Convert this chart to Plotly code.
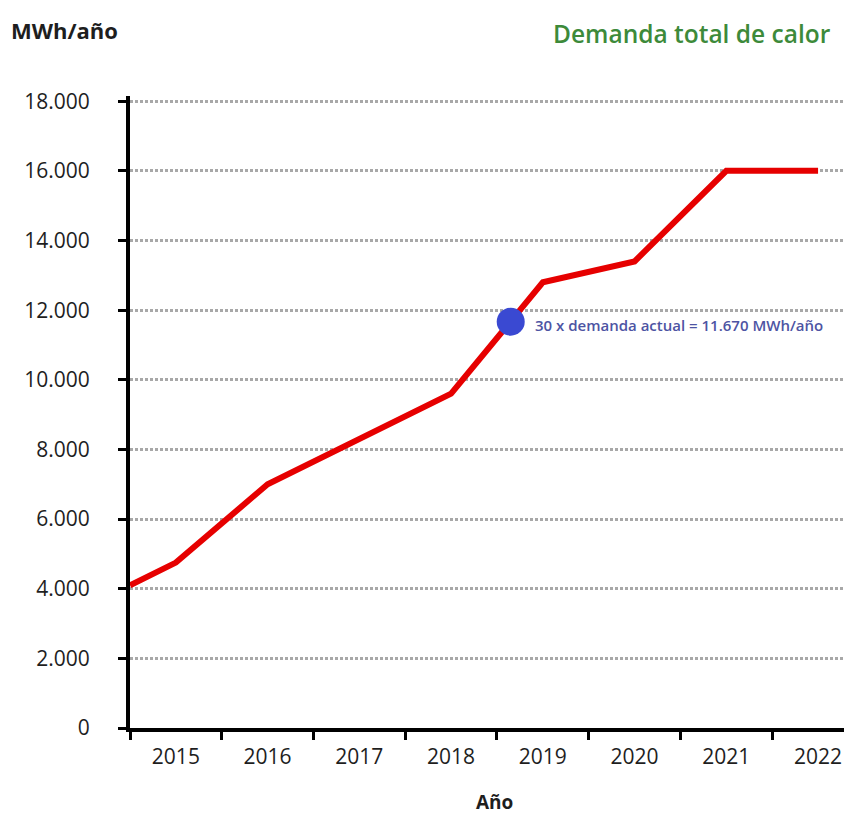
import plotly.graph_objects as go


# ==========================================================
# DATA
# ==========================================================

years = [2014.5, 2015, 2016, 2017, 2018, 2019, 2020, 2021, 2022]
demand = [4100, 4750, 7000, 8300, 9600, 12800, 13400, 16000, 16000]

year_labels = [2015, 2016, 2017, 2018, 2019, 2020, 2021, 2022]
year_bounds = [2014.5, 2015.5, 2016.5, 2017.5, 2018.5, 2019.5, 2020.5, 2021.5]

y_ticks = [0, 2000, 4000, 6000, 8000, 10000, 12000, 14000, 16000, 18000]

current_year = 2018.65
current_value = 11670
current_label = "30 x demanda actual = 11.670 MWh/año"


# ==========================================================
# FIGURE
# ==========================================================

FONT = "Open Sans"
INK = "#1e1e1e"

fig = go.Figure()

fig.add_trace(
    go.Scatter(
        x=years,
        y=demand,
        mode="lines",
        line=dict(color="#e60000", width=6),
        showlegend=False,
        hoverinfo="skip"
    )
)

fig.add_trace(
    go.Scatter(
        x=[current_year],
        y=[current_value],
        mode="markers",
        marker=dict(color="#3a49d2", size=28),
        showlegend=False,
        hoverinfo="skip"
    )
)

fig.add_annotation(
    x=current_year,
    y=current_value,
    text=current_label,
    showarrow=False,
    xanchor="left",
    yanchor="middle",
    xshift=22,
    yshift=-3,
    font=dict(family=FONT, size=15, color="#4d54a3", weight=600)
)

fig.add_annotation(
    xref="paper", yref="paper",
    x=-0.168, y=1.104,
    xanchor="left", yanchor="middle",
    text="MWh/año",
    showarrow=False,
    font=dict(family=FONT, size=22, color=INK, weight="bold")
)

fig.add_annotation(
    xref="paper", yref="paper",
    x=0.974, y=1.099,
    xanchor="right", yanchor="middle",
    text="Demanda total de calor",
    showarrow=False,
    font=dict(family=FONT, size=24.5, color="#3d8a3a", weight=600)
)

fig.add_annotation(
    xref="paper", yref="paper",
    x=0.5055, y=-0.117,
    xanchor="center", yanchor="middle",
    text="Año",
    showarrow=False,
    font=dict(family=FONT, size=19, color=INK, weight="bold")
)

fig.update_xaxes(
    range=[2014.5, 2022.37],
    tickmode="array",
    tickvals=year_labels,
    ticktext=[str(y) for y in year_labels],
    ticks="",
    ticklabelstandoff=7,
    tickfont=dict(family=FONT, size=21, color=INK),
    showgrid=False,
    zeroline=False,
    showline=True,
    linecolor="black",
    linewidth=4,
    minor=dict(
        tickmode="array",
        tickvals=year_bounds,
        ticks="outside",
        ticklen=8,
        tickwidth=3,
        tickcolor="black",
        showgrid=False
    )
)

fig.update_yaxes(
    range=[0, 18150],
    tickmode="array",
    tickvals=y_ticks,
    tickformat=",d",
    ticks="outside",
    ticklen=8,
    tickwidth=3,
    tickcolor="black",
    ticklabelstandoff=24,
    tickfont=dict(family=FONT, size=21, color=INK),
    showgrid=True,
    gridcolor="#a8a8a8",
    gridwidth=3,
    griddash="3px,2px",
    zeroline=False,
    showline=True,
    linecolor="black",
    linewidth=4
)

# the page body adds an 8px margin, so the figure is sized to fit the window
fig.update_layout(
    width=844,
    height=808,
    separators=",.",
    template="plotly_white",
    plot_bgcolor="white",
    paper_bgcolor="white",
    margin=dict(l=122, r=0, t=88, b=88)
)

fig.write_html("out.html")
